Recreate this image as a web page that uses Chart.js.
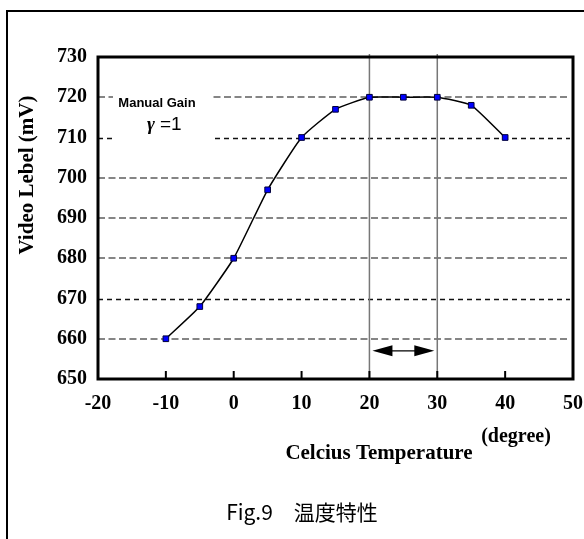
<!DOCTYPE html>
<html><head><meta charset="utf-8">
<script src="https://cdn.jsdelivr.net/npm/chart.js@4/dist/chart.umd.min.js"></script>
<style>html,body{margin:0;padding:0;background:#fff;} canvas{display:block;}</style>
</head><body>
<canvas id="c" width="584" height="539" style="width:584px;height:539px"></canvas>
<script>
// ---- data ----
const temperatures = [-10, -5, 0, 5, 10, 15, 20, 25, 30, 35, 40];
const videoLevels  = [660, 668, 680, 697, 710, 717, 720, 720, 720, 718, 710];
const xTickValues  = [-20, -10, 0, 10, 20, 30, 40, 50];
const yTickValues  = [650, 660, 670, 680, 690, 700, 710, 720, 730];
const darkGridValues = [670, 710];
const rangeBounds  = [20, 30];
const arrowLevel   = 657;
const yTitle  = 'Video Lebel (mV)';
const xTitle  = 'Celcius Temperature';
const xUnit   = '(degree)';
const noteLine = 'Manual Gain';
const noteGamma = 'γ';
const noteValue = '=1';
const caption = 'Fig.9\u3000温度特性';

const SERIF = '"Liberation Serif", "Times New Roman", serif';
const SANS = '"Liberation Sans", Arial, sans-serif';

const decor = {
  id: 'decor',
  beforeDraw(chart) {
    const ctx = chart.ctx;
    ctx.save();
    ctx.fillStyle = '#fff';
    ctx.fillRect(0, 0, chart.width, chart.height);
    ctx.strokeStyle = '#000';
    ctx.lineWidth = 2;
    ctx.beginPath();
    ctx.moveTo(7, chart.height + 2);
    ctx.lineTo(7, 11);
    ctx.lineTo(chart.width + 2, 11);
    ctx.stroke();
    ctx.restore();
  },
  beforeDatasetsDraw(chart) {
    const ctx = chart.ctx, a = chart.chartArea;
    const xs = chart.scales.x, ys = chart.scales.y;
    ctx.save();
    // dashed horizontal gridlines
    ys.ticks.forEach(t => {
      if (t.value <= ys.min || t.value >= ys.max) return;
      const y = Math.round(ys.getPixelForValue(t.value));
      const dark = darkGridValues.includes(t.value);
      ctx.strokeStyle = dark ? '#111' : '#858585';
      ctx.lineWidth = dark ? 1.3 : 2;
      ctx.setLineDash(dark ? [5, 4] : [7, 3.5]);
      ctx.beginPath();
      ctx.moveTo(a.left, y + (dark ? 0.5 : 0));
      ctx.lineTo(a.right - 3, y + (dark ? 0.5 : 0));
      ctx.stroke();
    });
    ctx.setLineDash([]);
    // white box behind note
    ctx.fillStyle = '#fff';
    ctx.fillRect(113, 88, 99, 54);
    // range lines
    ctx.strokeStyle = '#777';
    ctx.lineWidth = 1.5;
    rangeBounds.forEach(v => {
      const x = xs.getPixelForValue(v);
      ctx.beginPath();
      ctx.moveTo(x, a.top - 3);
      ctx.lineTo(x, a.bottom);
      ctx.stroke();
    });
    // double arrow
    const x1 = xs.getPixelForValue(rangeBounds[0]) + 3;
    const x2 = xs.getPixelForValue(rangeBounds[1]) - 3;
    const ay = ys.getPixelForValue(arrowLevel);
    ctx.strokeStyle = '#000';
    ctx.fillStyle = '#000';
    ctx.lineWidth = 1.4;
    ctx.beginPath();
    ctx.moveTo(x1 + 10, ay);
    ctx.lineTo(x2 - 10, ay);
    ctx.stroke();
    [[x1, 1], [x2, -1]].forEach(([x, d]) => {
      ctx.beginPath();
      ctx.moveTo(x, ay);
      ctx.lineTo(x + d * 20, ay - 5.5);
      ctx.lineTo(x + d * 20, ay + 5.5);
      ctx.closePath();
      ctx.fill();
    });
    // inward x tick marks
    ctx.lineWidth = 2;
    xs.ticks.forEach(t => {
      if (t.value <= xs.min || t.value >= xs.max) return;
      const x = xs.getPixelForValue(t.value);
      ctx.beginPath();
      ctx.moveTo(x, a.bottom);
      ctx.lineTo(x, a.bottom - 8);
      ctx.stroke();
    });
    // note text
    ctx.fillStyle = '#000';
    ctx.textBaseline = 'middle';
    ctx.textAlign = 'center';
    ctx.font = 'bold 13px ' + SANS;
    ctx.fillText(noteLine, 157, 103);
    ctx.textAlign = 'left';
    ctx.font = 'bold italic 19px ' + SERIF;
    ctx.fillText(noteGamma, 147, 125);
    ctx.font = '19px ' + SANS;
    ctx.fillText(noteValue, 160, 125);
    ctx.restore();
  },
  afterDatasetsDraw(chart) {
    const ctx = chart.ctx, a = chart.chartArea;
    ctx.save();
    ctx.strokeStyle = '#000';
    ctx.lineWidth = 3;
    ctx.strokeRect(a.left, a.top, a.right - a.left, a.bottom - a.top);
    ctx.restore();
  },
  afterDraw(chart) {
    const ctx = chart.ctx;
    ctx.save();
    ctx.fillStyle = '#000';
    ctx.textAlign = 'center';
    ctx.textBaseline = 'middle';
    ctx.font = 'bold 21px ' + SERIF;
    ctx.fillText(xTitle, 379, 454);
    ctx.font = 'bold 20px ' + SERIF;
    ctx.fillText(xUnit, 516, 437);
    ctx.save();
    ctx.font = 'bold 21px ' + SERIF;
    ctx.translate(28, 175);
    ctx.rotate(-Math.PI / 2);
    ctx.fillText(yTitle, 0, 0);
    ctx.restore();
    ctx.font = '21px "Noto Sans CJK JP", "Noto Sans", sans-serif';
    ctx.fillText(caption, 302, 512);
    ctx.restore();
  }
};

new Chart(document.getElementById('c'), {
  type: 'line',
  data: {
    datasets: [{
      data: temperatures.map((t, i) => ({ x: t, y: videoLevels[i] })),
      borderColor: '#000',
      borderWidth: 1.5,
      tension: 0.15,
      pointStyle: 'rect',
      pointRadius: 4,
      pointBackgroundColor: '#0000ff',
      pointBorderColor: '#00003a',
      pointBorderWidth: 1,
      fill: false
    }]
  },
  options: {
    responsive: false,
    animation: false,
    events: [],
    layout: { padding: { left: 0, top: 57, right: 11, bottom: 0 } },
    plugins: { legend: { display: false }, tooltip: { enabled: false } },
    scales: {
      x: {
        type: 'linear',
        min: -20, max: 50,
        afterBuildTicks: s => { s.ticks = xTickValues.map(v => ({ value: v })); },
        afterFit: s => { s.height = 160; s.paddingLeft = 0; s.paddingRight = 0; },
        grid: { display: false, drawTicks: false },
        border: { display: false },
        ticks: { padding: 13, color: '#000', font: { family: SERIF, size: 20, weight: 'bold' }, maxRotation: 0 }
      },
      y: {
        type: 'linear',
        min: 650, max: 730,
        afterBuildTicks: s => { s.ticks = yTickValues.map(v => ({ value: v })); },
        afterFit: s => { s.width = 98; s.paddingTop = 0; s.paddingBottom = 0; },
        grid: { display: false, drawTicks: false },
        border: { display: false },
        ticks: { padding: 11, color: '#000', font: { family: SERIF, size: 20, weight: 'bold' } }
      }
    }
  },
  plugins: [decor]
});
</script>
</body></html>
